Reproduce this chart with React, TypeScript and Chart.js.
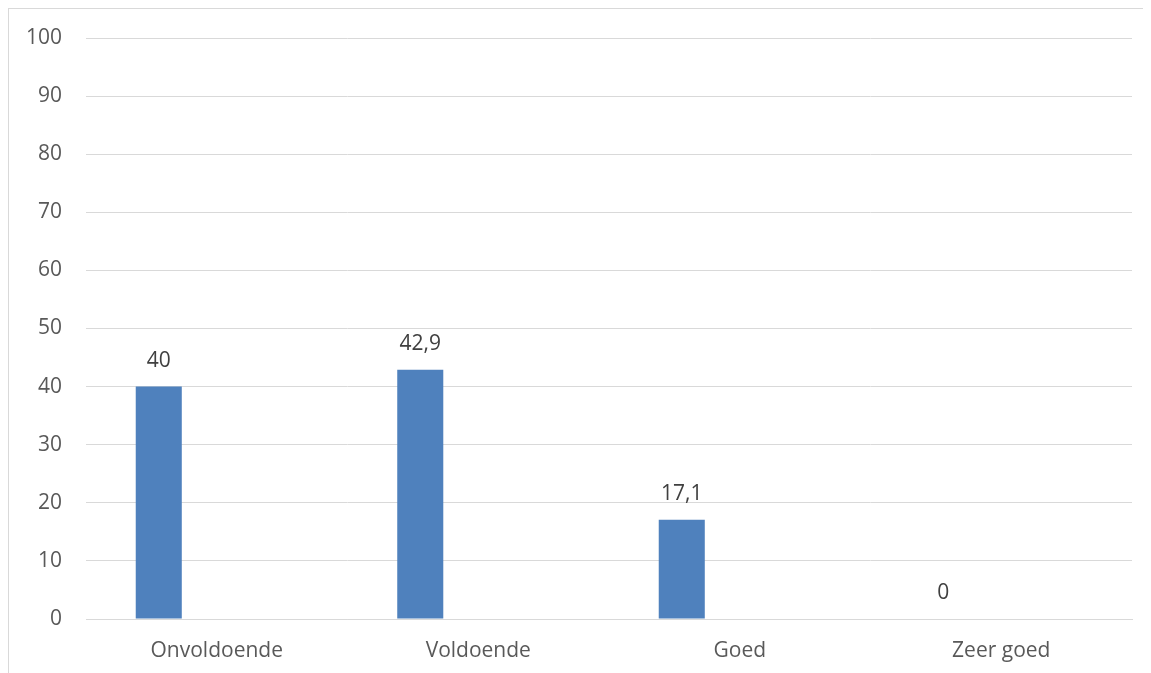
import React, { useEffect, useRef } from "react";
import { Chart, registerables } from "chart.js";

Chart.register(...registerables);

const categories = ["Onvoldoende", "Voldoende", "Goed", "Zeer goed"];
const seriesValues = [40, 42.9, 17.1, 0];
const emptySeries = [null, null, null, null];
const yTicks = { min: 0, max: 100, step: 10 };

const FONT = "'Open Sans', 'Liberation Sans', sans-serif";

const labelPlugin = {
  id: "valueLabels",
  afterDatasetsDraw(chart: any) {
    const ctx = chart.ctx;
    const meta = chart.getDatasetMeta(0);
    ctx.save();
    ctx.font = `21px ${FONT}`;
    ctx.fillStyle = "#404040";
    ctx.textAlign = "center";
    ctx.textBaseline = "middle";
    meta.data.forEach((bar: any, i: number) => {
      const v = seriesValues[i];
      if (v === null || v === undefined) return;
      const txt = String(v).replace(".", ",");
      ctx.fillText(txt, bar.x, bar.y - 26);
    });
    ctx.restore();
  },
};

export default function App() {
  const ref = useRef<HTMLCanvasElement | null>(null);
  useEffect(() => {
    if (!ref.current) return;
    const chart = new Chart(ref.current, {
      type: "bar",
      data: {
        labels: categories,
        datasets: [
          {
            data: seriesValues,
            backgroundColor: "#4F81BD",
            categoryPercentage: 0.887,
            barPercentage: 0.397,
          },
          {
            data: emptySeries as any,
            backgroundColor: "#C0504D",
            categoryPercentage: 0.887,
            barPercentage: 0.397,
          },
        ],
      },
      options: {
        animation: false,
        responsive: false,
        maintainAspectRatio: false,
        layout: { autoPadding: false, padding: { top: 29, right: 19, left: 0, bottom: 0 } },
        plugins: {
          legend: { display: false },
          title: { display: false },
          tooltip: { enabled: false },
        },
        scales: {
          x: {
            grid: { display: false, drawTicks: false },
            border: { display: true, color: "#d9d9d9", width: 1 },
            ticks: {
              color: "#595959",
              font: { family: FONT, size: 21 },
              padding: 19,
              maxRotation: 0,
            },
            afterFit: (s: any) => {
              s.height = 54;
              s.paddingLeft = 0;
              s.paddingRight = 0;
            },
          },
          y: {
            min: yTicks.min,
            max: yTicks.max,
            grid: { color: "#d9d9d9", drawTicks: false, lineWidth: 1 },
            border: { display: false },
            ticks: {
              stepSize: yTicks.step,
              color: "#595959",
              font: { family: FONT, size: 21 },
              padding: 24,
            },
            afterFit: (s: any) => {
              s.width = 77;
              s.paddingTop = 0;
              s.paddingBottom = 0;
            },
          },
        },
      },
      plugins: [labelPlugin],
    });
    return () => chart.destroy();
  }, []);

  return (
    <div style={{ width: 1143, height: 665, overflow: "hidden" }}>
      <div
        style={{
          width: 1170,
          height: 700,
          border: "1px solid #d9d9d9",
          boxSizing: "border-box",
          background: "#fff",
        }}
      >
        <canvas
          ref={ref}
          width={1142}
          height={664}
          style={{ display: "block", width: 1142, height: 664 }}
        />
      </div>
    </div>
  );
}
